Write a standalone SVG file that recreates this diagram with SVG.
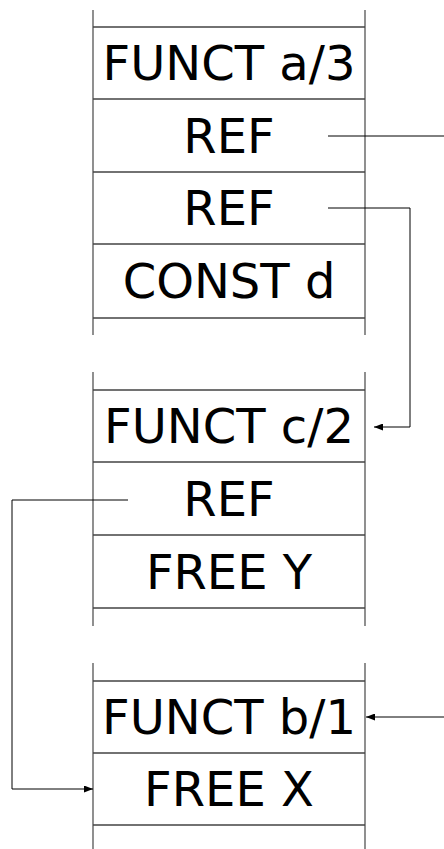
<svg xmlns="http://www.w3.org/2000/svg" width="444" height="849" viewBox="0 0 444 849">
<style>
.frame{stroke:#555;stroke-width:1.3;fill:none}
.sep{stroke:#444;stroke-width:1.3;fill:none}
.lbl{font-family:"DejaVu Sans",sans-serif;font-size:48px;fill:#000;text-anchor:middle}
.conn{stroke:#000;stroke-width:1;fill:none}
</style>
<defs>
<marker id="ah" markerUnits="userSpaceOnUse" markerWidth="9" markerHeight="7" refX="9" refY="3.5" orient="auto">
<path d="M0,0 L9,3.5 L0,7 z" fill="#000"/>
</marker>
</defs>
<g id="block1">
<path class="frame" d="M93,10 V335 M365,10 V335"/>
<path class="sep" d="M93,27 H365 M93,99 H365 M93,172 H365 M93,244 H365 M93,318 H365"/>
<g id="funct-a3"><text class="lbl" x="229" y="80">FUNCT a/3</text></g>
<g id="ref1"><text class="lbl" x="229" y="153">REF</text></g>
<g id="ref2"><text class="lbl" x="229" y="225">REF</text></g>
<g id="const-d"><text class="lbl" x="229" y="298">CONST d</text></g>
</g>
<g id="block2">
<path class="frame" d="M93,372 V626 M365,372 V626"/>
<path class="sep" d="M93,390 H365 M93,462 H365 M93,535 H365 M93,608 H365"/>
<g id="funct-c2"><text class="lbl" x="229" y="443">FUNCT c/2</text></g>
<g id="ref3"><text class="lbl" x="229" y="516">REF</text></g>
<g id="free-y"><text class="lbl" x="229" y="589">FREE Y</text></g>
</g>
<g id="block3">
<path class="frame" d="M93,663 V849 M365,663 V849"/>
<path class="sep" d="M93,681 H365 M93,753 H365 M93,825 H365"/>
<g id="funct-b1"><text class="lbl" x="229" y="734">FUNCT b/1</text></g>
<g id="free-x"><text class="lbl" x="229" y="806">FREE X</text></g>
</g>
<g id="connectors">
<path class="conn" d="M328,136 H444"/>
<path class="conn" d="M328,208 H410 V427 H374" marker-end="url(#ah)"/>
<path class="conn" d="M128,500 H12 V789 H93" marker-end="url(#ah)"/>
<path class="conn" d="M444,717 H366" marker-end="url(#ah)"/>
</g>
</svg>
